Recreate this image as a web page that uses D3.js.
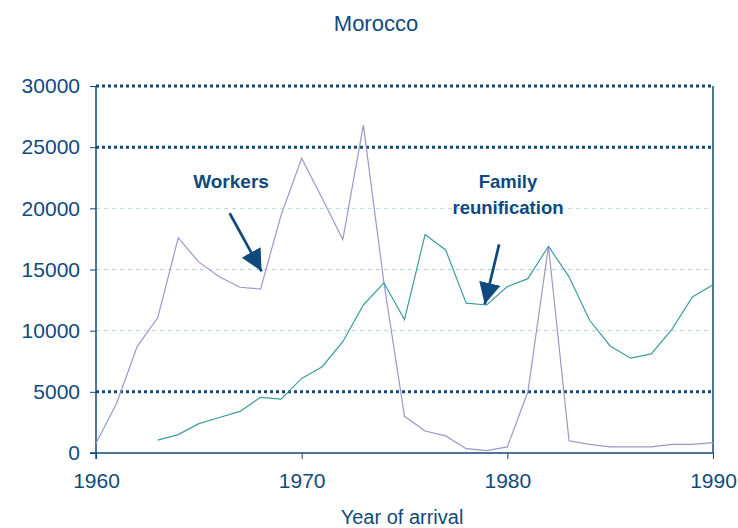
<!DOCTYPE html>
<html>
<head>
<meta charset="utf-8">
<script src="https://cdn.jsdelivr.net/npm/d3@7"></script>
<style>
  body { margin: 0; background: #fff; }
  text { font-family: "Liberation Sans", Arial, sans-serif; }
</style>
</head>
<body>
<svg width="738" height="528"></svg>
<script>
// data
const years = d3.range(1960, 1991);
const workers = [800, 4050, 8700, 11050, 17600, 15600, 14400, 13550, 13400, 19450,
  24100, 20800, 17450, 26800, 13900, 3000, 1800, 1400, 350, 200,
  500, 5000, 16900, 1000, 700, 500, 500, 500, 700, 700, 850];
const family = [null, null, null, 1050, 1500, 2400, 2900, 3400, 4550, 4400,
  6100, 7050, 9100, 12100, 13900, 10900, 17850, 16600, 12250, 12100,
  13600, 14250, 16900, 14400, 10850, 8750, 7750, 8100, 10100, 12750, 13750];
const yTicks = [0, 5000, 10000, 15000, 20000, 25000, 30000];
const strongLines = [5000, 25000, 30000];
const softLines = [10000, 15000, 20000];
const xTicks = [1960, 1970, 1980, 1990];

const navy = "#0e4a7e";
const margin = { top: 86, right: 25, bottom: 75, left: 96 };
const width = 738 - margin.left - margin.right;
const height = 528 - margin.top - margin.bottom;

const x = d3.scaleLinear().domain([1960, 1990]).range([0, width]);
const y = d3.scaleLinear().domain([0, 30000]).range([height, 0]);

const svg = d3.select("svg");
const chart = svg.append("g")
  .attr("transform", "translate(" + margin.left + "," + margin.top + ")");

// grid lines
chart.selectAll(".soft").data(softLines).enter().append("line")
  .attr("x1", 0).attr("x2", width)
  .attr("y1", d => y(d)).attr("y2", d => y(d))
  .attr("stroke", "#b9d0e2").attr("stroke-width", 1)
  .attr("stroke-dasharray", "4,4");

chart.selectAll(".strong").data(strongLines).enter().append("line")
  .attr("x1", 0).attr("x2", width)
  .attr("y1", d => y(d)).attr("y2", d => y(d))
  .attr("stroke", navy).attr("stroke-width", 3)
  .attr("stroke-dasharray", "3,3");

// axes
const yAxis = d3.axisLeft(y).tickValues(yTicks).tickSize(6).tickPadding(10)
  .tickFormat(d3.format("d"));
const gy = chart.append("g").call(yAxis);
gy.select(".domain").remove();
gy.selectAll("line").attr("stroke", navy);
gy.selectAll("text").attr("fill", navy).style("font-size", "21px");

const xAxis = d3.axisBottom(x).tickValues(xTicks).tickSize(6).tickPadding(14)
  .tickFormat(d3.format("d"));
const gx = chart.append("g").attr("transform", "translate(0," + height + ")").call(xAxis);
gx.select(".domain").remove();
gx.selectAll("line").attr("stroke", navy);
gx.selectAll("text").attr("fill", navy).style("font-size", "21px");

// frame: left, bottom, right
chart.append("line").attr("x1", 0).attr("x2", 0).attr("y1", 0).attr("y2", height + 6)
  .attr("stroke", navy).attr("stroke-width", 1.5);
chart.append("line").attr("x1", -6).attr("x2", width).attr("y1", height).attr("y2", height)
  .attr("stroke", navy).attr("stroke-width", 1.5);
chart.append("line").attr("x1", width).attr("x2", width).attr("y1", 0).attr("y2", height)
  .attr("stroke", navy).attr("stroke-width", 1.5);

// series
const line = d3.line()
  .defined(d => d.v != null)
  .x(d => x(d.year))
  .y(d => y(d.v));

chart.append("path")
  .datum(years.map((yr, i) => ({ year: yr, v: workers[i] })))
  .attr("fill", "none").attr("stroke", "#9d97c9").attr("stroke-width", 1.2)
  .attr("d", line);

chart.append("path")
  .datum(years.map((yr, i) => ({ year: yr, v: family[i] })))
  .attr("fill", "none").attr("stroke", "#3a9f99").attr("stroke-width", 1.2)
  .attr("d", line);

// arrows
svg.append("defs").append("marker")
  .attr("id", "head")
  .attr("viewBox", "0 0 10 10")
  .attr("refX", 10).attr("refY", 5)
  .attr("markerWidth", 8).attr("markerHeight", 8)
  .attr("markerUnits", "strokeWidth")
  .attr("orient", "auto")
  .append("path").attr("d", "M0,0 L10,5 L0,10 z").attr("fill", navy);

function arrow(x1, y1, x2, y2) {
  chart.append("line")
    .attr("x1", x(x1)).attr("y1", y(y1))
    .attr("x2", x(x2)).attr("y2", y(y2))
    .attr("stroke", navy).attr("stroke-width", 2.7)
    .attr("marker-end", "url(#head)");
}
arrow(1966.5, 19600, 1968.05, 14850);
arrow(1979.6, 17050, 1978.9, 12150);

// annotations
chart.append("text").text("Workers")
  .attr("x", 231 - margin.left).attr("y", 188 - margin.top)
  .attr("text-anchor", "middle").attr("fill", navy)
  .style("font-size", "19px").style("font-weight", "bold");

const fam = chart.append("text")
  .attr("text-anchor", "middle").attr("fill", navy)
  .style("font-size", "18.5px").style("font-weight", "bold");
fam.append("tspan").text("Family").attr("x", 508 - margin.left).attr("y", 188 - margin.top);
fam.append("tspan").text("reunification").attr("x", 508 - margin.left).attr("y", 214 - margin.top);

// title and axis label
svg.append("text").text("Morocco")
  .attr("x", 376).attr("y", 31)
  .attr("text-anchor", "middle").attr("fill", navy)
  .style("font-size", "22px");

svg.append("text").text("Year of arrival")
  .attr("x", 402).attr("y", 524)
  .attr("text-anchor", "middle").attr("fill", navy)
  .style("font-size", "20px");
</script>
</body>
</html>
